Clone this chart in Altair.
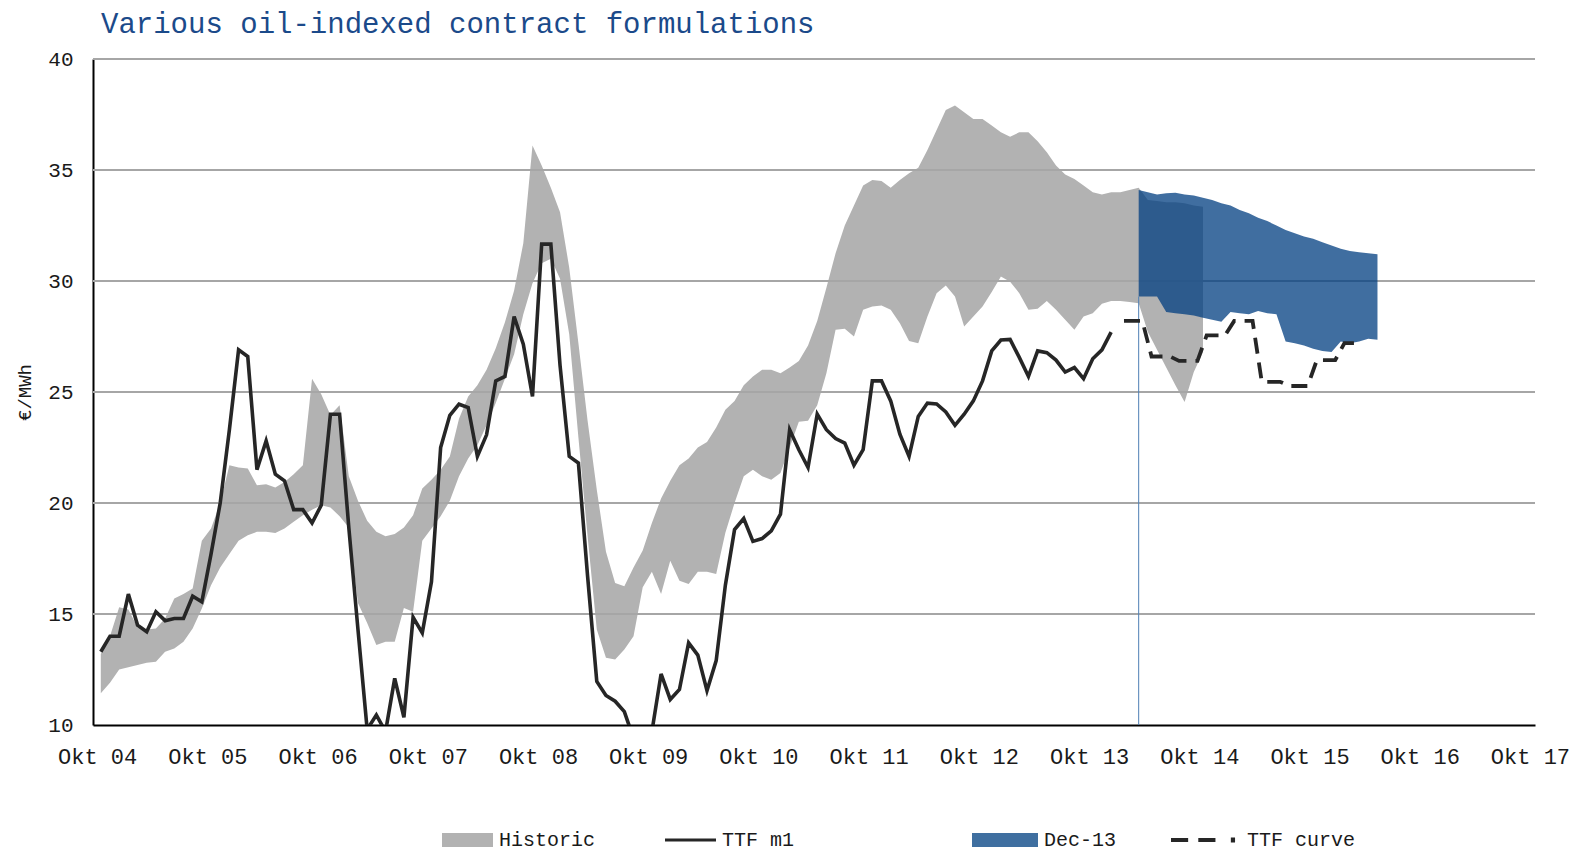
import altair as alt
import pandas as pd

FONT = "Liberation Mono"

title_text = "Various oil-indexed contract formulations"
y_title = "€/MWh"
tick_labels = ["Okt 04", "Okt 05", "Okt 06", "Okt 07", "Okt 08", "Okt 09", "Okt 10",
               "Okt 11", "Okt 12", "Okt 13", "Okt 14", "Okt 15", "Okt 16", "Okt 17"]
y_ticks = [10, 15, 20, 25, 30, 35, 40]
grid_values = [15, 20, 25, 30, 35, 40]

# month index 0 = Oct 2004
HIST_START = 0
hist_hi = [13.2, 14.0, 15.3, 15.2, 14.4, 14.3, 14.35, 14.8, 15.7, 15.9,
           16.15, 18.3, 18.85, 20.0, 21.7, 21.6, 21.55, 20.8, 20.85, 20.7,
           20.95, 21.3, 21.7, 25.6, 24.9, 23.96, 24.4, 21.2, 20.1, 19.2,
           18.7, 18.5, 18.6, 18.9, 19.45, 20.65, 21.05, 21.5, 22.1, 23.8,
           24.8, 25.3, 26.0, 26.97, 28.14, 29.57, 31.7, 36.1, 35.2, 34.2,
           33.1, 30.6, 27.2, 23.7, 20.6, 17.8, 16.4, 16.25, 17.1, 17.86,
           19.1, 20.2, 21.0, 21.7, 22.0, 22.5, 22.75, 23.4, 24.2, 24.6,
           25.3, 25.7, 26.0, 26.0, 25.85, 26.1, 26.4, 27.1, 28.2, 29.7,
           31.25, 32.5, 33.4, 34.3, 34.55, 34.5, 34.2, 34.55, 34.85, 35.1,
           35.9, 36.8, 37.7, 37.9, 37.6, 37.3, 37.3, 37.0, 36.7, 36.5,
           36.7, 36.7, 36.3, 35.8, 35.2, 34.8, 34.6, 34.3, 34.0, 33.9,
           34.0, 34.0, 34.1, 34.2, 33.65, 33.6, 33.55, 33.55, 33.5, 33.4,
           33.35]
hist_lo = [11.43, 11.9, 12.5, 12.6, 12.7, 12.8, 12.85, 13.3, 13.45, 13.75,
           14.35, 15.25, 16.3, 17.1, 17.7, 18.3, 18.55, 18.7, 18.7, 18.65,
           18.85, 19.15, 19.45, 19.7, 19.9, 19.8, 19.4, 18.9, 15.5, 14.6,
           13.6, 13.75, 13.75, 15.27, 15.1, 18.3, 18.85, 19.4, 20.1, 21.2,
           22.0, 22.6, 23.5, 24.5, 25.6, 26.7, 28.5, 29.9, 30.8, 31.0,
           30.1, 27.6, 22.95, 18.5, 14.3, 13.03, 12.95, 13.4, 14.0, 16.2,
           16.9, 15.9, 17.4, 16.5, 16.35, 16.9, 16.9, 16.8, 18.66, 20.0,
           21.2, 21.5, 21.2, 21.05, 21.35, 22.5, 23.66, 23.7, 24.4, 25.84,
           27.8, 27.85, 27.5, 28.7, 28.85, 28.9, 28.7, 28.1, 27.3, 27.2,
           28.4, 29.45, 29.8, 29.3, 27.95, 28.4, 28.85, 29.5, 30.2, 29.97,
           29.45, 28.7, 28.75, 29.1, 28.7, 28.25, 27.8, 28.4, 28.55, 28.97,
           29.1, 29.1, 29.05, 29.0, 27.7, 26.9, 26.1, 25.3, 24.55, 25.9,
           26.8]

M1_START = 0
ttf_m1 = [13.3, 14.0, 14.0, 15.9, 14.5, 14.2, 15.1, 14.7, 14.8, 14.8,
          15.8, 15.55, 17.7, 20.0, 23.3, 26.9, 26.6, 21.5, 22.8, 21.3,
          21.0, 19.7, 19.7, 19.1, 19.9, 24.0, 24.0, 18.9, 14.3, 9.8,
          10.45, 9.7, 12.1, 10.35, 14.85, 14.15, 16.45, 22.5, 23.95, 24.45,
          24.3, 22.1, 23.07, 25.5, 25.7, 28.4, 27.15, 24.8, 31.66, 31.66,
          26.2, 22.1, 21.8, 16.7, 11.96, 11.33, 11.07, 10.6, 9.4, 9.2,
          9.7, 12.3, 11.15, 11.6, 13.7, 13.15, 11.55, 12.9, 16.3, 18.8,
          19.3, 18.27, 18.4, 18.75, 19.5, 23.3, 22.4, 21.6, 24.0, 23.3,
          22.9, 22.7, 21.7, 22.4, 25.5, 25.5, 24.6, 23.1, 22.1, 23.9,
          24.5, 24.46, 24.1, 23.5, 24.0, 24.6, 25.5, 26.85, 27.34, 27.37,
          26.56, 25.7, 26.85, 26.77, 26.44, 25.9, 26.1, 25.6, 26.5, 26.9,
          27.7]

DEC13_START = 113
dec13_hi = [34.1, 34.0, 33.9, 33.95, 33.97, 33.9, 33.85, 33.75, 33.65, 33.5,
            33.4, 33.2, 33.05, 32.85, 32.7, 32.5, 32.3, 32.15, 32.0, 31.9,
            31.75, 31.6, 31.45, 31.35, 31.3, 31.25, 31.2]
dec13_lo = [29.3, 29.3, 29.3, 28.6, 28.55, 28.5, 28.45, 28.35, 28.25, 28.17,
            28.6, 28.55, 28.5, 28.65, 28.55, 28.5, 27.27, 27.2, 27.1, 26.95,
            26.85, 26.8, 27.27, 27.2, 27.27, 27.4, 27.35]

CURVE_START = 111
ttf_curve = [28.2, 28.2, 28.2, 26.6, 26.6, 26.6, 26.4, 26.4, 26.4,
             27.55, 27.55, 27.55, 28.2, 28.2, 28.2, 25.46, 25.46, 25.46,
             25.27, 25.27, 25.27, 26.44, 26.44, 26.44, 27.2, 27.2, 27.2]

legend_names = ["Historic", "TTF m1", "Dec-13", "TTF curve"]
legend_colors = ["#B2B2B2", "#262626", "#3F6FA0", "#262626"]
legend_paths = [
    "M-1,-0.27H1V0.27H-1Z",
    "M-1,-0.06H1V0.06H-1Z",
    "M-1,-0.21H1V0.21H-1Z",
    "M-1,-0.06H-0.51V0.06H-1Z M-0.22,-0.06H0.27V0.06H-0.22Z M0.71,-0.07H0.83V0.07H0.71Z",
]
legend_widths = [51, 51, 66, 70]
legend_x = [349, 572, 879, 1078]
LEGEND_CENTER = 781

MID = 0.4        # monthly points placed inside their month
CURVE_MID = 0.8  # forward-curve months

hist_df = pd.DataFrame({"i": list(range(HIST_START, HIST_START + len(hist_hi))),
                        "lo": hist_lo, "hi": hist_hi})
m1_df = pd.DataFrame({"i": list(range(M1_START, M1_START + len(ttf_m1))), "v": ttf_m1})
dec_df = pd.DataFrame({"i": list(range(DEC13_START, DEC13_START + len(dec13_hi))),
                       "lo": dec13_lo, "hi": dec13_hi})
curve_df = pd.DataFrame({"i": list(range(CURVE_START, CURVE_START + len(ttf_curve))),
                         "v": ttf_curve})
edge_df = pd.DataFrame({"i": [DEC13_START], "base": [y_ticks[0]], "lo": [dec13_lo[0]]})
grid_df = pd.DataFrame({"g": grid_values})
title_df = pd.DataFrame({"title": [title_text]})

x_scale = alt.Scale(domain=[-0.45, 156.55], nice=False, zero=False)
y_scale = alt.Scale(domain=[10, 40], nice=False, zero=False)

tick_values = [12 * k for k in range(len(tick_labels))]
label_expr = " : ".join(f"datum.value == {v} ? '{s}'" for v, s in zip(tick_values, tick_labels)) + " : ''"

x_axis = alt.Axis(values=tick_values, labelExpr=label_expr,
                  grid=False, ticks=False, tickSize=0, labelFlush=False, labelOverlap=False,
                  labelFont=FONT, labelFontSize=22, labelColor="#1a1a1a", labelPadding=31,
                  labelBaseline="middle", domainColor="#000000", domainWidth=2, title=None)
y_axis = alt.Axis(values=y_ticks, grid=False, ticks=False, tickSize=0,
                  labelFont=FONT, labelFontSize=21, labelColor="#1a1a1a", labelPadding=20,
                  domainColor="#000000", domainWidth=2,
                  title=y_title, titleFont=FONT, titleFontSize=19, titleFontWeight="normal",
                  titleColor="#1a1a1a", titleX=-69, titleY=333, titleAngle=270,
                  titleAlign="center", titleBaseline="middle")


def X():
    return alt.X("t:Q", scale=x_scale, axis=x_axis)


def Y(field):
    return alt.Y(field, scale=y_scale, axis=y_axis)


calc = {"t": f"datum.i + {MID}"}

grey = alt.Chart(hist_df).transform_calculate(**calc).mark_area(color="#B2B2B2").encode(
    x=X(), y=Y("lo:Q"), y2="hi:Q",
)

grid = alt.Chart(grid_df).mark_rule(color="#A6A6A6", strokeWidth=2).encode(
    y=Y("g:Q")
)

blue = alt.Chart(dec_df).transform_calculate(**calc).mark_area(
    color="#003D80", opacity=0.75).encode(
    x=X(), y=Y("lo:Q"), y2="hi:Q",
)

edge = alt.Chart(edge_df).transform_calculate(**calc).mark_rule(
    color="#4F7FB5", strokeWidth=1).encode(
    x=X(), y=Y("base:Q"), y2="lo:Q",
)

m1 = alt.Chart(m1_df).transform_calculate(**calc).mark_line(
    color="#262626", strokeWidth=3.6, clip=True).encode(
    x=X(), y=Y("v:Q"),
)

curve = alt.Chart(curve_df).transform_calculate(t=f"datum.i + {CURVE_MID}").mark_line(
    color="#262626", strokeWidth=3.8, strokeDash=[16, 9], clip=True).encode(
    x=X(), y=Y("v:Q"),
)

title_mark = alt.Chart(title_df).mark_text(
    align="left", baseline="alphabetic", font=FONT, fontSize=29, color="#1B4A8A", dx=8
).encode(x=alt.value(0), y=alt.value(-26), text="title:N")

legend_layers = []
for name, col, path, w, lx in zip(legend_names, legend_colors, legend_paths, legend_widths, legend_x):
    leg = alt.Chart(pd.DataFrame({"series": [name]})).mark_point(filled=True, opacity=0).encode(
        color=alt.Color("series:N", scale=alt.Scale(domain=[name], range=[col]),
                        legend=alt.Legend(orient="none", legendX=lx, legendY=LEGEND_CENTER - w / 2,
                                          title=None, symbolType=path, symbolSize=w * w,
                                          symbolStrokeWidth=0, symbolOpacity=1,
                                          labelFont=FONT, labelFontSize=20, labelColor="#1a1a1a",
                                          labelOffset=6, padding=0)),
    )
    legend_layers.append(leg)

chart = alt.layer(grey, grid, blue, edge, m1, curve, title_mark, *legend_layers).resolve_scale(
    color="independent"
).properties(
    width=1442, height=666,
    padding={"left": 85, "top": 51, "right": 40, "bottom": 135},
    autosize=alt.AutoSizeParams(type="none"),
    background="white",
).configure_view(strokeWidth=0)

chart.save("out.html", embed_options={"renderer": "svg", "actions": False})
